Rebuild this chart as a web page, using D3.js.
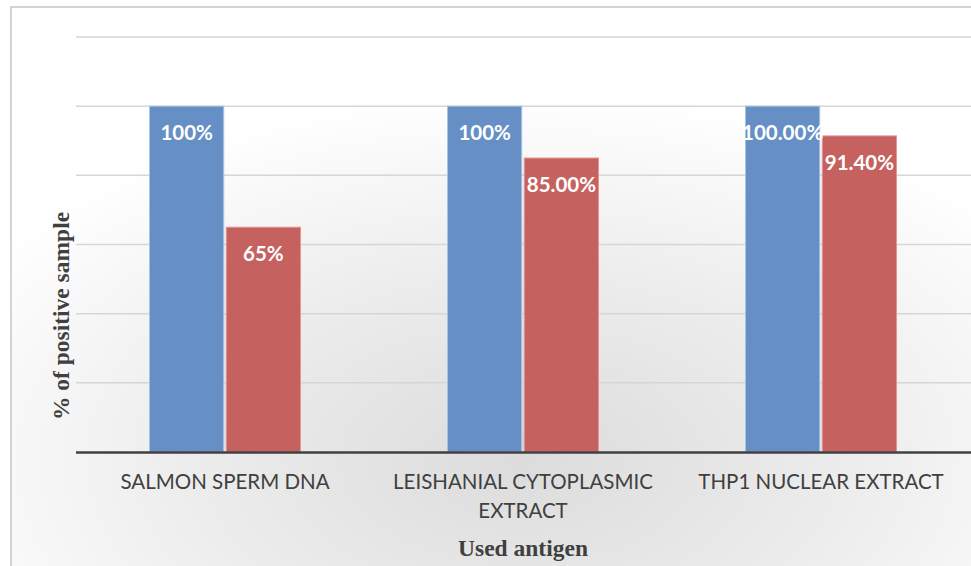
<!DOCTYPE html>
<html>
<head>
<meta charset="utf-8">
<script src="https://cdnjs.cloudflare.com/ajax/libs/d3/7.8.5/d3.min.js"></script>
<style>
  html, body { margin: 0; padding: 0; background: #ffffff; }
  svg { display: block; }
</style>
</head>
<body>
<svg id="chart" width="971" height="566"></svg>
<script>
// Antigens tested and the share of positive samples for each series
const categories = [["SALMON SPERM DNA"], ["LEISHANIAL CYTOPLASMIC", "EXTRACT"], ["THP1 NUCLEAR EXTRACT"]];
const seriesNames = ["Series A", "Series B"];
const seriesA = [1.00, 1.00, 1.00];
const seriesB = [0.65, 0.85, 0.914];
const labelsA = ["100%", "100%", "100.00%"];
const labelsB = ["65%", "85.00%", "91.40%"];
const yTicks = [0, 0.2, 0.4, 0.6, 0.8, 1.0, 1.2];

const svg = d3.select("#chart");
const W = 971, H = 566;
const plot = { left: 76, right: 970, top: 37, bottom: 452 };

// soft radial shading behind the chart
const defs = svg.append("defs");
const rg = defs.append("radialGradient").attr("id", "bg")
  .attr("cx", "52%").attr("cy", "80%").attr("r", "65%");
rg.append("stop").attr("offset", "0%").attr("stop-color", "#dcdcdc");
rg.append("stop").attr("offset", "50%").attr("stop-color", "#ececec");
rg.append("stop").attr("offset", "100%").attr("stop-color", "#ffffff");

svg.append("rect").attr("x", 11).attr("y", 7).attr("width", W + 10).attr("height", H)
  .attr("fill", "url(#bg)").attr("stroke", "#c6c6c6").attr("stroke-width", 1.5);

const x0 = d3.scaleBand().domain(d3.range(categories.length))
  .range([plot.left, plot.right]).paddingInner(0).paddingOuter(0);
const x1 = d3.scaleBand().domain(seriesNames)
  .range([-76, 76]).paddingInner(0.02);
const y = d3.scaleLinear().domain([0, 1.2]).range([plot.bottom, plot.top]);

// horizontal gridlines
svg.append("g").selectAll("line").data(yTicks.filter(d => d > 0)).join("line")
  .attr("x1", plot.left).attr("x2", W)
  .attr("y1", d => y(d)).attr("y2", d => y(d))
  .attr("stroke", "#d6d6d6").attr("stroke-width", 1.5);

const colors = { "Series A": "#6690c5", "Series B": "#c5625f" };
const strokes = { "Series A": "#a9c3e3", "Series B": "#e39592" };
const values = { "Series A": seriesA, "Series B": seriesB };
const labels = { "Series A": labelsA, "Series B": labelsB };

const groups = svg.append("g").selectAll("g").data(d3.range(categories.length)).join("g")
  .attr("transform", i => `translate(${x0(i) + x0.bandwidth() / 2},0)`);

groups.selectAll("rect").data(i => seriesNames.map(s => ({ s, v: values[s][i] }))).join("rect")
  .attr("x", d => x1(d.s) + 0.5)
  .attr("y", d => y(d.v))
  .attr("width", x1.bandwidth() - 1)
  .attr("height", d => y(0) - y(d.v))
  .attr("fill", d => colors[d.s])
  .attr("stroke", d => strokes[d.s])
  .attr("stroke-width", 1);

groups.selectAll("text.val").data(i => seriesNames.map(s => ({ s, v: values[s][i], t: labels[s][i] }))).join("text")
  .attr("class", "val")
  .attr("x", d => x1(d.s) + x1.bandwidth() / 2)
  .attr("y", d => y(d.v) + 27)
  .attr("dy", "0.35em")
  .attr("text-anchor", "middle")
  .attr("font-family", "Lato, 'Open Sans', sans-serif")
  .attr("font-weight", "bold")
  .attr("font-size", 20.5)
  .attr("fill", "#ffffff")
  .text(d => d.t);

// x axis baseline
svg.append("line").attr("x1", plot.left).attr("x2", W)
  .attr("y1", plot.bottom + 0.5).attr("y2", plot.bottom + 0.5)
  .attr("stroke", "#404040").attr("stroke-width", 2.5);

// category labels
groups.append("text")
  .attr("text-anchor", "middle")
  .attr("font-family", "Lato, 'Open Sans', sans-serif")
  .attr("font-size", 20.5)
  .attr("fill", "#404040")
  .selectAll("tspan").data(i => categories[i]).join("tspan")
  .attr("x", 0)
  .attr("y", (d, k) => 489 + k * 29)
  .text(d => d);

// axis titles
svg.append("text")
  .attr("x", 523).attr("y", 556)
  .attr("text-anchor", "middle")
  .attr("font-family", "'Liberation Serif', 'DejaVu Serif', serif")
  .attr("font-weight", "bold").attr("font-size", 23.5).attr("fill", "#404040")
  .text("Used antigen");

svg.append("text")
  .attr("transform", "translate(69,316) rotate(-90)")
  .attr("text-anchor", "middle")
  .attr("font-family", "'Liberation Serif', 'DejaVu Serif', serif")
  .attr("font-weight", "bold").attr("font-size", 23.5).attr("fill", "#404040")
  .text("% of positive sample");
</script>
</body>
</html>
